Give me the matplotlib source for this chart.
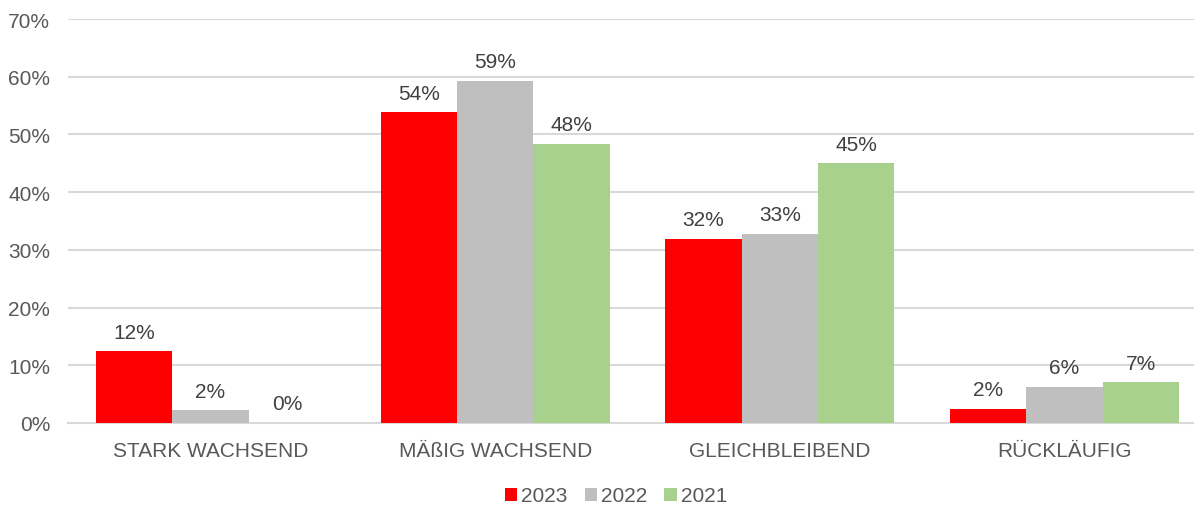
import matplotlib
matplotlib.use("Agg")
import matplotlib.pyplot as plt
import numpy as np
from matplotlib.ticker import FuncFormatter

categories = ["STARK WACHSEND", "MÄßIG WACHSEND", "GLEICHBLEIBEND", "RÜCKLÄUFIG"]
series_names = ["2023", "2022", "2021"]
values_2023 = [12.4, 53.8, 31.9, 2.4]
values_2022 = [2.2, 59.3, 32.8, 6.2]
values_2021 = [0.0, 48.4, 45.0, 7.05]
labels_2023 = ["12%", "54%", "32%", "2%"]
labels_2022 = ["2%", "59%", "33%", "6%"]
labels_2021 = ["0%", "48%", "45%", "7%"]
colors = ["#ff0000", "#bfbfbf", "#a9d18e"]

plt.rcParams['font.family'] = ['Liberation Sans', 'DejaVu Sans']

fig = plt.figure(figsize=(11.94, 5.06), dpi=100)
ax = fig.add_axes([68.2/1194, 82/506, 1138.7/1194, 404/506])

x = np.arange(len(categories))
w = 0.268
allvals = [values_2023, values_2022, values_2021]
alllabels = [labels_2023, labels_2022, labels_2021]
for i, (vals, labs, c, name) in enumerate(zip(allvals, alllabels, colors, series_names)):
    pos = x + (i - 1) * w
    ax.bar(pos, vals, width=w, color=c, label=name, zorder=3)
    for p, v, l in zip(pos, vals, labs):
        ax.annotate(l, (p, v), xytext=(0, 7), textcoords="offset points",
                    ha="center", va="bottom", fontsize=15, color="#404040")

ax.set_xlim(-0.5, 3.5)
ax.set_ylim(0, 70)
ax.set_yticks(np.arange(0, 71, 10))
ax.yaxis.set_major_formatter(FuncFormatter(lambda v, p: f"{int(v)}%"))
ax.set_xticks(x)
ax.set_xticklabels(categories)
ax.tick_params(axis="both", length=0, labelsize=15, labelcolor="#595959")
ax.tick_params(axis="x", pad=13)
ax.tick_params(axis="y", pad=13)
ax.grid(axis="y", color="#d9d9d9", linewidth=1.5, zorder=0)
for s in ["top", "right", "left"]:
    ax.spines[s].set_visible(False)
ax.spines["bottom"].set_color("#d9d9d9")
ax.spines["bottom"].set_linewidth(1.5)

leg = fig.legend(loc="center", bbox_to_anchor=(616/1194, 1 - 497/506), ncol=3,
                 frameon=False, fontsize=15, handlelength=0.6, handleheight=0.6,
                 handletextpad=0.2, columnspacing=0.8)
for t in leg.get_texts():
    t.set_color("#595959")

fig.savefig("out.png", dpi=100)
